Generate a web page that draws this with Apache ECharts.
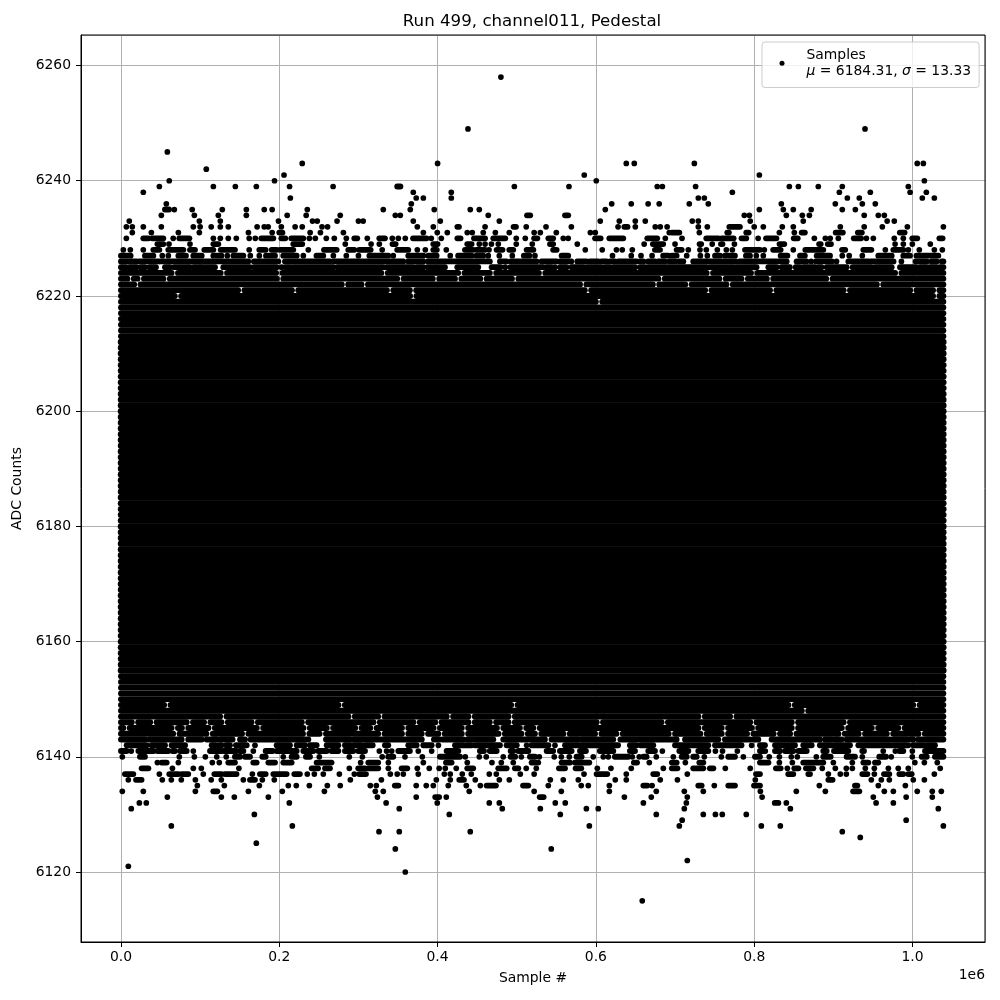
<!DOCTYPE html>
<html><head><meta charset="utf-8">
<script src="https://cdn.jsdelivr.net/npm/echarts@6/dist/echarts.min.js"></script>
<style>html,body{margin:0;padding:0;background:#fff}#c{width:1000px;height:1000px}</style>
</head><body><div id="c"></div>
<script>
// All sample positions are in thousands of samples. A number is one sample, a pair is a run of overlapping samples.
const firstSample = 0, lastSample = 1039;
const coreLevelLow = 6150, coreLevelHigh = 6218;
const xTicks = [0, 200000, 400000, 600000, 800000, 1000000];
const yTicks = [6120, 6140, 6160, 6180, 6200, 6220, 6240, 6260];

const level6258 = [480];
const level6249 = [438.4, 940];
const level6245 = [58.6];
const level6243 = [229, 400, 638.4, 648.5, 724.4, 1006, 1013.7];
const level6242 = [107.8];
const level6241 = [206, 585.3, 806.5];
const level6240 = [61, 194, 600.5, 1015];
const level6239 = [48.5,116.7,144.5,171,213,268,[349,353],497,566,677.5,684,726,844.4,855.8,881,911.3,994.7];
const level6238 = [28.2,369.3,417.3,772.4,907.6,946.7,997,1017.5];
const level6237 = [214,373,382,417.3,729.4,737,917.7,932.8,1012.4,1027.6];
const level6236 = [57.3,366.8,620,644.7,666,680,718,742,834.3,902.5,936.6,953];
const level6235 = [[55.6,60.7],67.4,90,128,158.4,181,191,235.4,331.4,365.5,395.8,441.3,452.7,611.9,806.5,836.8,849.4,872,911.3,927.8];
const level6234 = [51,92.7,123,158.4,210,234,277,346.6,352.9,464,[513,517],[561,565],787.5,793.9,840.6,860.8,869.7,939,956.8,964.4];
const level6233 = [10.5,99,125.5,199,242,248,273,300,306,369.3,403.4,478,605.5,629.6,649.8,662.4,721.8,729.4,795,862,968,977];
const level6232 = [6.8,14.3,28.2,51,91.4,100,114,125.5,135.6,172,181,186,202.6,220,229,254,261,374.4,394.6,[425,427],460,[496,499],512,537,569,628,[636,640],649.8,675,681.3,690,729.4,740.8,[768.6,782],800,811.5,835.5,849.4,908.8,939,961.9,993.5,1039];
const level6231 = [14.3,38.4,72.5,99,161,191,[200,204],239,252,281,382,399.6,412.3,437.5,443.8,457.7,473,490.6,522,529.8,550,593,599.2,692.7,[696,705.4],730.7,[766,768],[790,793],831.8,850.7,[860,864],[903,912],[931,936],[984,990]];
const level6230 = [6.8,[28.2,34.6],[39.6,53.5],66,[73.7,86.4],116.7,125.5,135.6,145.7,162,169.7,[177.3,192.5],[202.6,207.6],[215.2,230.4],238,245.5,259.4,269.5,284.7,[294.8,298.5],311.2,[326.4,333.5],342.8,350.4,359.2,[369,386],392,404.7,[425,429],[446,460],[470.4,485.5],499.4,510.8,[522,526],[540,546],558.8,565,[599,606],[617,634.6],[665,677.5],687.7,708.8,[739.5,754.7],[759,774],[784,790],805,[815,828],[850,855],876,889.9,896,906.3,[925.8,935],941.7,950.5,977,988.4,[999.8,1006],[1034,1038]];
const level6229 = [[46,53.5],60.7,87.2,[116.7,123],[217.7,229],283.4,316,326.4,[343,347],[394.6,400],[437.5,443],452.7,460,468,476.7,499.4,519.6,[542,546],576.5,661,[672,685],700,[731,733],747,[758,760],775,[832,838],[882,884],[893,897],978,988.4,999.8,1022.5];
const level6228 = [3,11.8,28.2,[40.9,48.5],[59.8,78.8],[87.2,93.5],[105.3,116.7],[126,144],162,[174.8,180],182.8,[190.4,196.7],[201,217.7],236.7,[256.5,272.5],[287.2,294.8],[301,315.4],330,[349,363],374.4,384.5,[394.6,399],411,[434.6,445],[449,460],465,[474.6,482],[490.6,495.6],[512.5,521],[546,550.4],586.6,608,626,633.3,646,[674.6,681],[702,708.4],716.8,731.5,739.5,753.4,764.8,772.4,[788.4,807.3],812.8,[824,833.4],849.4,[864.6,887.3],[911,915],[937.9,948],965.7,[975.8,988.4],994.7,1008.6,1027.6,1037.7];
const level6227 = [[0,12.2],[30.3,40.9],52.2,59.8,[72.5,82.1],[91.4,102],[116.7,127],134.4,[142,154.6],163.4,174.8,[183.2,194.6],[205,222],230.4,[247,255.6],268.3,284.7,300,[313.8,337.7],344,[363,382],[388.3,398.8],416,[426,443],[449,457.7],464,478,494.4,[509,516],523,[556.7,565],621,644.7,657,671,[685,691.5],[695.7,702],714.7,732,740.8,[750.5,756.8],[763,775.7],[789.6,794.7],802.7,811.5,[833.4,841.9],[857.9,864],[879,895.8],911.3,920,936.6,[956.8,973.7],[988.4,996.8],[1005,1032.6]];
const level6226 = [[0,19.8],[23.2,47.2],[50.1,59.8],[62.8,83.8],[86.4,160.9],[168,198.8],[207.2,264],[268.3,306],[309,356.7],[363,382],[388,396.7],[399.6,466],[478.8,487],[492.3,525],[531.4,550.4],[554.6,566.4],569,[576.5,588.3],[592.5,603],[607.2,613.6],[617.8,624],[628.3,651.4],[655.7,660],[666,674.6],[678.8,687],[692.8,700],[705.4,710.5],[723,765],[768.6,777],[782,841],[853.6,866],872,[878,898],904,[919,944],[947,957],[959.8,976],986,[1004,1018],[1024,1030.5],[1037,1039]];
const level6225 = [[0,6.3],[10.6,19.8],[24.9,30.3],[35.8,44.2],[55.6,62],[67,87],[91.4,99.8],[102,118.8],[129.3,142],[145,163],[168,196.7],203,[207.6,214.4],[217.7,222],[225,268.3],[273.3,331.4],[335.6,369.3],[373.5,382],[387.4,409.3],[424.9,451.4],[468.3,479.6],485.5,[491.9,533.5],[537.8,544],548.3,[554.6,563],[569.3,585],[589,607.2],[611.4,617.8],[622,649.4],[655.7,662],[666,740],[744,773.6],[777,803],[817.9,828.4],[834.7,845],[852.4,857.9],[862,876.8],[881,885],[891.6,916.8],[924.4,948.4],[952.6,973.7],[984.2,1005],[1009.5,1018],[1022,1030.5],[1034.7,1039]];

const level6149 = [58.6,278.8,497,847.3,1005];
const gaps6148 = [864.2];
const gaps6147 = [129.3,291.4,329,415.6,443,493.6,733.6,773.6];
const gaps6146 = [17.7,41,87,109,131,169,232.5,323,373.5,401,443,470,493.6,605,687,799,851.5,917];
const gaps6145 = [7,68,81,114.6,175.6,234.6,264,300,319,359,399,434.6,479,508,525,733.6,763,801,851.5,914.7,952.6,986];
const gaps6144 = [70,112,157,234,255,329,359,384,405,434.6,481,510,527,563,603,630,696,736,763,795,828.6,849.4,910.5,936,971.6,1011.6];
const gaps6224 = [68,130,200,333,430,470,532,744,800,982];
const gaps6223 = [12.2,25,57.7,201,353,398,426,458,498,683,760,788,820,895];
const gaps6222 = [20.7,283,308,584,676,717,769,959];
const gaps6221 = [152,220,340,369,590,742,824,917,1001,1030];
const gaps6220 = [72,369.3,1030];
const gaps6219 = [604];

const level6143 = [[0,30.3],[35.8,64],[67,76.7],[85,102],[108.3,121],[126,141],[150.4,156.7],[163.8,169.3],[172.3,236.7],[259,281],[283,289.3],[294.4,325],[328,361.7],[366,380],[395.4,403],[406.4,420],[422.4,432.5],[437.5,470.4],[483,535.6],[544,577.8],[582,600.9],[603,622],[631,649.4],[652.3,702],[712.6,754.7],[763,794.7],[799,805.2],[822,883],[889.4,897.9],[902,910.5],[916.8,971.6],[975.8,982],[985,992.6],[996.8,1001],[1007.4,1013.7],[1017.9,1039]];
const level6142 = [[7.2,32.5],[38.8,55.6],[64,81],[114.6,118.8],[123,127],[132.7,137.7],[145.3,158.8],169.3,[196.7,213.5],[222,232.5],[238.8,247.2],[259.9,274.6],[283,304],[308.3,318],[333.5,337.7],[363,373.5],[382,392.5],401,[422,443],[447.2,478.8],[487.2,500],512.5,[518.8,540],548.3,[561,628],[643,651.4],[656.5,672.5],[700,742],[750.5,784],796.8,[807.3,813.6],[826.3,851.5],[862,872.6],[883,921],[931.6,994.7],[1001,1028.4]];
const level6141 = [[0,7.2],13,[22,41],[46,59.8],[65.3,68.2],[74.6,83],91.4,[112.5,127],[130,146],[150.4,154.6],167.2,[182.8,191.6],[196.7,222],[230.4,243],[249.3,260],[266,274.6],[283,293.5],[299.8,308.3],326.4,335.6,342,[350.4,365],375.6,392.5,[411.4,426.2],[453.5,458.6],[466,474.6],[492.3,495.6],[502,514.6],[537.8,546],[554.6,569.3],[579.9,587.4],[605,622],[643,649.4],[666.2,674.6],684,[705.4,716.8],[729.4,742],751,760,778.7,[807.3,811.5],814,[826.3,832.6],[839,849.4],[855.8,866.3],[887.3,891.6],[900.8,918.9],[936.6,938.7],963,978.3,[983.4,988.4],999.8,[1015.8,1039]];
const level6140 = [1.7,[24,30.3],73.7,92.7,106.6,121,133,[144,150.4],[156.7,163],[178.6,182.8],205,[215.6,222],[233.7,238.8],250.6,288.5,305,330,[337.7,344],358.8,380.7,[403,428.3],435,452.7,461.5,483,[492.3,498],505.8,[516.7,523],528.5,547.4,556.3,566.4,[575.6,582],596.7,609.3,615.7,[624,640.9],646,654.8,[660,664],676.3,697.8,[708.4,714.7],[723,727.3],737,758.5,[767.3,775.7],786.3,[801,807.3],819,831.8,846.9,854.5,878.5,[887.3,896.6],[916.8,927.3],936.6,[958,966.5],973.2,999.8,[1011.6,1018],[1028.4,1039]];
const level6139 = [46,[51.4,57.7],72.5,115.4,124.2,[135.6,144],[167.2,171.4],[186.2,194.6],[205.1,215.6],[247.2,266],302.8,[312.5,325],337.8,382,[410.6,417.7],437.5,468.7,480.5,495.6,[518.8,527.2],[556.7,567.2],[573.5,591.7],[648,652],667.5,[696,702],713,[730.7,735.7],[807.3,818],831.8,848.2,[862,887.3],900,924,[937.9,944.2],[952.6,956.8],1003,1015,1031.3];
const level6138 = [[26.1,34.6],65,91.4,101.5,149,[241,249],[257.8,264],288.5,[299.8,308.3],[312.5,325],337.8,[354.6,361.7],374.4,389.5,402,409.7,423.6,[437.5,445],[476.7,487.2],[497.7,502],512,524.7,[553.3,561],[574.4,581.5],601.8,619,644.7,685.2,[696,703],[723,735.7],[744,748.4],763.5,795,[827.5,833.4],841.9,[850.7,855.8],[865.4,874.7],886,902.5,916.4,924,940.4,951.8,969.5,982,994.7,1035];
const level6137 = [[5,15.6],48.5,[61,72.5],[76.7,85],104,[118,127],[131.4,146],166,[175.6,182.8],[192.5,209.3],[219,226],235.4,244.3,255.6,275.9,294.8,[301,309.5],340.3,349,356.7,375.6,408.5,416,431.2,442.6,465.3,474.2,504.5,522,585,[600.9,614.4],638.4,[672.5,677.5],715.5,[802.3,807.3],[843,849.4],[868.4,870.5],893.7,908.8,916.4,[936.6,943],951.8,[964,970.7],[983.4,988.4],[994.7,999],1027.6];
const level6136 = [9.3,[19,26],52.2,63.6,76.2,94,114,126.8,154.6,[163,169.3],178.6,193.7,289.8,329,398.4,416,[427.4,433.3],447.6,478,490.6,542.4,558.8,577.8,624.5,638.4,681.3,703,801.4,[893.7,899],948,960.6,970.7,1001,1015];
const level6135 = [96.5,130.6,174.8,211.4,221.5,238,260.7,277,315,322.6,[346,350.4],373,385.7,394.6,413.5,436.3,454,[462,473.7],[508,514.6],539.9,581.5,590.4,617,[660,665],671,[729.4,733.6],749.6,[767.3,775.7],[799.8,807.3],882.3,[927.3,930.3],956.8,991];
const level6134 = [1.7,28.2,94,[116.7,121.7],161,203.8,257,321.3,331.4,440,522,556.3,617,676.3,711.7,735.7,807.8,853.2,889.9,[925,932.8],964.4,975.8,1006,1025,1036.4];
const level6133 = [58.6,126.8,143.2,186.2,324,373,[397,402],411,[529,534],636,670,715.5,810,950.5,992,1025];
const level6132 = [23.2,32,212.7,335,399.6,465.3,478,548.7,561.3,660,714.3,[826,830.5],840.6,954,975.8];
const level6131 = [13,351.6,481.7,529.8,588,603,711.7,845.7,1032.6];
const level6130 = [168.5,414.8,555,676.3,735.7,751,759.7,790];
const level6129 = [709,992];
const level6128 = [63.6,216.5,591.7,705.4,809,833,1039];
const level6127 = [326,351.6,441.3,911.3];
const level6126 = [934];
const level6125 = [171];
const level6124 = [346.6,543.6];
const level6122 = [715.5];
const level6121 = [9.3];
const level6120 = [359.2];
const level6115 = [658.6];

const sparseRows = {
  6258:level6258,6249:level6249,6245:level6245,6243:level6243,6242:level6242,6241:level6241,6240:level6240,6239:level6239,6238:level6238,6237:level6237,6236:level6236,6235:level6235,6234:level6234,6233:level6233,6232:level6232,6231:level6231,6230:level6230,6229:level6229,6228:level6228,6227:level6227,6226:level6226,6225:level6225,
  6143:level6143,6142:level6142,6141:level6141,6140:level6140,6139:level6139,6138:level6138,6137:level6137,6136:level6136,6135:level6135,6134:level6134,6133:level6133,6132:level6132,6131:level6131,6130:level6130,6129:level6129,6128:level6128,6127:level6127,6126:level6126,6125:level6125,6124:level6124,6122:level6122,6121:level6121,6120:level6120,6115:level6115
};
const gappedRows = {
  6149:level6149,6148:gaps6148,6147:gaps6147,6146:gaps6146,6145:gaps6145,6144:gaps6144,
  6224:gaps6224,6223:gaps6223,6222:gaps6222,6221:gaps6221,6220:gaps6220,6219:gaps6219
};

const dots = [], runs = [];
Object.keys(sparseRows).forEach(function (lv) {
  sparseRows[lv].forEach(function (e) {
    if (Array.isArray(e)) runs.push([e[0]*1000, e[1]*1000, +lv]);
    else dots.push([e*1000, +lv]);
  });
});
const halfGap = 4;
Object.keys(gappedRows).forEach(function (lv) {
  let s = firstSample;
  gappedRows[lv].forEach(function (g) {
    runs.push([s*1000, (g-halfGap)*1000, +lv]);
    s = g + halfGap;
  });
  runs.push([s*1000, lastSample*1000, +lv]);
});
for (let lv = coreLevelLow; lv <= coreLevelHigh; lv++) runs.push([firstSample*1000, lastSample*1000, lv]);

const chart = echarts.init(document.getElementById('c'), null, {renderer:'canvas'});
const font = '"DejaVu Sans"';
chart.setOption({
  animation:false,
  backgroundColor:'#fff',
  title:{show:false},
  grid:{left:81,right:15,top:35,bottom:58,containLabel:false},
  legend:{show:true,left:762,top:42,padding:[6,8,9,17.5],orient:'vertical',
    itemWidth:39,itemHeight:5,icon:'circle',
    backgroundColor:'rgba(255,255,255,0.8)',borderColor:'#ccc',borderWidth:1,borderRadius:3,
    data:[{name:'Samples',icon:'circle',itemStyle:{color:'#000',opacity:1}}],
    formatter:function(){return '{t|Samples}\n{i|μ}{t| = 6184.31, }{i|σ}{t| = 13.33}';},
    textStyle:{rich:{t:{fontFamily:font,fontSize:13.9,color:'#000',lineHeight:16.5},
                     i:{fontFamily:font,fontSize:13.9,fontStyle:'italic',color:'#000',lineHeight:16.5}}}},
  xAxis:{type:'value',min:-50500,max:1091600,splitNumber:5,
    name:'Sample #',nameLocation:'middle',nameGap:29,
    nameTextStyle:{fontFamily:font,fontSize:13.9,color:'#000'},
    axisLine:{show:true,onZero:false,lineStyle:{color:'#000',width:1}},
    axisTick:{show:true,length:5,lineStyle:{color:'#000',width:1}},
    axisLabel:{fontFamily:font,fontSize:13.9,color:'#000',margin:8,showMinLabel:false,showMaxLabel:false,
      formatter:function(v){return xTicks.indexOf(v)>=0?(v/1e6).toFixed(1):'';}},
    splitLine:{show:true,lineStyle:{color:'#b0b0b0',width:1}}},
  yAxis:{type:'value',min:6107.85,max:6265.3,splitNumber:8,
    name:'ADC Counts',nameLocation:'middle',nameGap:48,
    nameTextStyle:{fontFamily:font,fontSize:13.9,color:'#000'},
    axisLine:{show:true,onZero:false,lineStyle:{color:'#000',width:1}},
    axisTick:{show:true,length:5,lineStyle:{color:'#000',width:1}},
    axisLabel:{fontFamily:font,fontSize:13.9,color:'#000',margin:10,showMinLabel:false,showMaxLabel:false,
      formatter:function(v){return yTicks.indexOf(v)>=0?String(v):'';}},
    splitLine:{show:true,lineStyle:{color:'#b0b0b0',width:1}}},
  graphic:[
    {type:'text',x:532,y:22,style:{text:'Run 499, channel011, Pedestal',fontFamily:font,fontSize:16.67,fill:'#000',align:'center',verticalAlign:'middle'}},
    {type:'text',x:985,y:975,style:{text:'1e6',fontFamily:font,fontSize:13.9,fill:'#000',align:'right',verticalAlign:'middle'}},
    {type:'rect',shape:{x:81,y:35,width:904,height:907},style:{fill:'none',stroke:'#000',lineWidth:1},z:100,silent:true}
  ],
  series:[
    {type:'custom',name:'core',coordinateSystem:'cartesian2d',data:runs,silent:true,z:3,
      encode:{x:[0,1],y:2},
      renderItem:function(params,api){
        const a=api.coord([api.value(0),api.value(2)]), b=api.coord([api.value(1),api.value(2)]);
        const lv=api.value(2);
        const w=(lv>=6155&&lv<=6212)?6.4:5.85;
        return {type:'line',shape:{x1:a[0],y1:a[1],x2:b[0],y2:b[1]},
          style:{stroke:'#000',lineWidth:w,lineCap:'round'}};
      }},
    {type:'scatter',name:'Samples',data:dots,symbol:'circle',symbolSize:5.7,itemStyle:{color:'#000',opacity:1},silent:true,z:4}
  ]
});
</script></body></html>
